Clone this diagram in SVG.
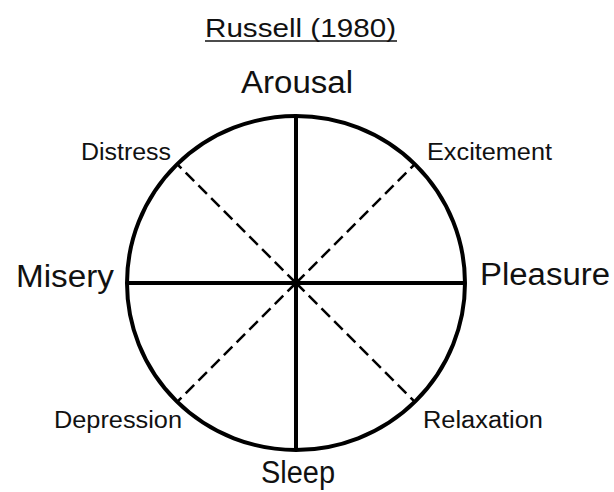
<svg xmlns="http://www.w3.org/2000/svg" width="614" height="492" viewBox="0 0 614 492">
<style>
text{font-family:"Liberation Sans",Arial,sans-serif;fill:#111}
.big{font-size:31px}
.small{font-size:23px}
.title{font-size:25px}
.solid{stroke:#000;stroke-width:4;fill:none}
.dash{stroke:#000;stroke-width:2.5;stroke-dasharray:12 6;fill:none}
</style>
<rect width="614" height="492" fill="#fff"/>
<g id="title">
<text class="title" x="205" y="37" textLength="191" lengthAdjust="spacingAndGlyphs">Russell (1980)</text>
<line x1="205" y1="41" x2="397" y2="41" stroke="#111" stroke-width="1.6"/>
</g>
<g id="connectors">
<line class="dash" x1="296" y1="283" x2="177" y2="164"/>
<line class="dash" x1="296" y1="283" x2="415" y2="164"/>
<line class="dash" x1="296" y1="283" x2="177" y2="402"/>
<line class="dash" x1="296" y1="283" x2="415" y2="402"/>
<line class="solid" x1="296" y1="116" x2="296" y2="450"/>
<line class="solid" x1="127" y1="283" x2="465" y2="283"/>
</g>
<g id="circle">
<ellipse class="solid" cx="296" cy="283" rx="169" ry="167"/>
</g>
<g id="arousal"><text class="big" x="241" y="93" textLength="112" lengthAdjust="spacingAndGlyphs">Arousal</text></g>
<g id="sleep"><text class="big" x="261" y="483" textLength="74" lengthAdjust="spacingAndGlyphs">Sleep</text></g>
<g id="misery"><text class="big" x="16" y="287" textLength="98" lengthAdjust="spacingAndGlyphs">Misery</text></g>
<g id="pleasure"><text class="big" x="480" y="285" textLength="130" lengthAdjust="spacingAndGlyphs">Pleasure</text></g>
<g id="distress"><text class="small" x="81" y="160" textLength="90" lengthAdjust="spacingAndGlyphs">Distress</text></g>
<g id="excitement"><text class="small" x="427" y="160" textLength="125" lengthAdjust="spacingAndGlyphs">Excitement</text></g>
<g id="depression"><text class="small" x="54" y="428" textLength="128" lengthAdjust="spacingAndGlyphs">Depression</text></g>
<g id="relaxation"><text class="small" x="423" y="428" textLength="120" lengthAdjust="spacingAndGlyphs">Relaxation</text></g>
</svg>
